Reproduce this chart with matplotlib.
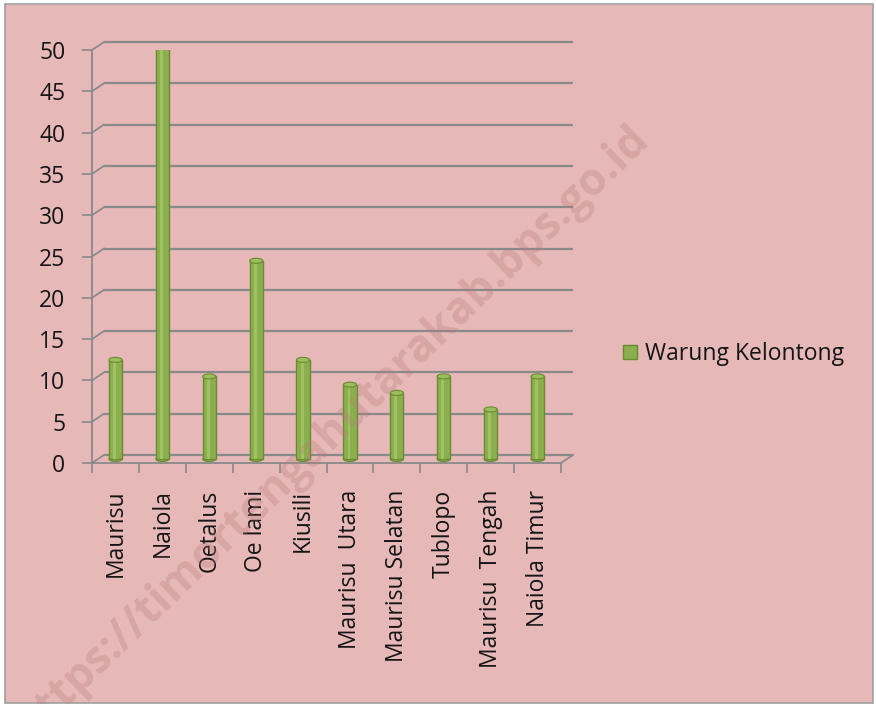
import matplotlib
matplotlib.use("Agg")
import matplotlib.pyplot as plt
from matplotlib import transforms
from matplotlib.patches import Rectangle, Ellipse
import numpy as np

categories = ["Maurisu", "Naiola", "Oetalus", "Oe lami", "Kiusili",
              "Maurisu  Utara", "Maurisu Selatan", "Tublopo", "Maurisu  Tengah", "Naiola Timur"]
values = [12, 50, 10, 24, 12, 9, 8, 10, 6, 10]
series_name = "Warung Kelontong"
yticks = list(range(0, 55, 5))

FONT = ["Open Sans", "DejaVu Sans"]
plt.rcParams['font.family'] = FONT
FS = 16.5
TXT = "#151515"

W, H = 876, 704
fig = plt.figure(figsize=(W / 100, H / 100), dpi=100)
fig.patch.set_facecolor("white")

# chart area background with border
bg = Rectangle((4.5 / W, 1.5 / H), (873 - 4.5) / W, (702 - 3) / H, transform=fig.transFigure,
               facecolor="#E6B8B7", edgecolor="#A0A0A0", lw=1.2, zorder=-10)
fig.add_artist(bg)

# axes = front plane of the 3D plot
x0, x1, y0, y1 = 92, 561, 463, 50
ax = fig.add_axes([x0 / W, (H - y0) / H, (x1 - x0) / W, (y0 - y1) / H])
ax.patch.set_alpha(0)
ax.set_xlim(0, len(categories))
ax.set_ylim(0, 50)

grid_c = "#8A8A8A"
for s in ["top", "right"]:
    ax.spines[s].set_visible(False)
for s in ["left", "bottom"]:
    ax.spines[s].set_color(grid_c)
    ax.spines[s].set_linewidth(1.3)

# depth offset (pixels)
DX, DY = 12, 8
back = transforms.offset_copy(ax.transData, fig=fig, x=DX, y=DY, units="dots")
ddx = DX * len(categories) / (x1 - x0)
ddy = DY * 50 / (y0 - y1)

for v in yticks:
    ax.plot([0, len(categories)], [v, v], transform=back, color=grid_c, lw=1.6,
            clip_on=False, zorder=1, solid_capstyle="butt")
    ax.plot([0, ddx], [v, v + ddy], color=grid_c, lw=1.3, clip_on=False, zorder=1)
# floor right edge
ax.plot([len(categories), len(categories) + ddx], [0, ddy], color=grid_c, lw=1.3,
        clip_on=False, zorder=1)

# bars (mid-depth)
mid = transforms.offset_copy(ax.transData, fig=fig, x=0, y=4, units="dots")
xc = np.arange(len(categories)) + 0.5
bw = 0.28
bars = ax.bar(xc, values, width=bw, color="#8BAF4E", edgecolor="#6A8A34", lw=1.0,
              transform=mid, zorder=3, label=series_name)
eh = 5 * 50 / (y0 - y1)
for x, v in zip(xc, values):
    ax.add_patch(Ellipse((x, v), bw, eh, transform=mid, facecolor="#9CBF5C",
                         edgecolor="#6A8A34", lw=0.8, zorder=4))
    ax.add_patch(Ellipse((x, 0), bw, eh, transform=mid, facecolor="#8BAF4E",
                         edgecolor="#6A8A34", lw=0.8, zorder=2.9))
    ax.add_patch(Rectangle((x - bw * 0.18, 0), bw * 0.22, v, transform=mid,
                           facecolor="#A0C262", edgecolor="none", zorder=3.5))

# ticks
ax.set_yticks(yticks)
ax.set_yticklabels([str(v) for v in yticks], fontsize=FS, color=TXT)
ax.tick_params(axis="y", length=7.2, width=1.2, color=grid_c, pad=12)
ax.set_xticks(np.arange(len(categories) + 1))
ax.set_xticklabels([])
ax.tick_params(axis="x", which="major", length=7.5, width=1.2, color=grid_c)
ax.set_xticks(xc, minor=True)
ax.set_xticklabels(categories, minor=True, rotation=90, fontsize=FS, color=TXT)
ax.tick_params(axis="x", which="minor", length=0, pad=19)

# legend
leg = ax.legend(handles=[bars], loc="center left", bbox_to_anchor=(623 / W, 1 - 354 / H),
                bbox_transform=fig.transFigure, frameon=False, fontsize=FS,
                handlelength=0.6, handleheight=0.6, handletextpad=0.35, borderpad=0,
                borderaxespad=0)
for t in leg.get_texts():
    t.set_color(TXT)

# watermark
fig.text(642 / W, 1 - 132 / H, "https://timortengahutarakab.bps.go.id", rotation=44,
         rotation_mode="anchor", ha="right", va="center", fontsize=32, fontweight="bold",
         color="#B97A7C", alpha=0.3, zorder=10)

fig.savefig("out.png", dpi=100, facecolor=fig.get_facecolor())
